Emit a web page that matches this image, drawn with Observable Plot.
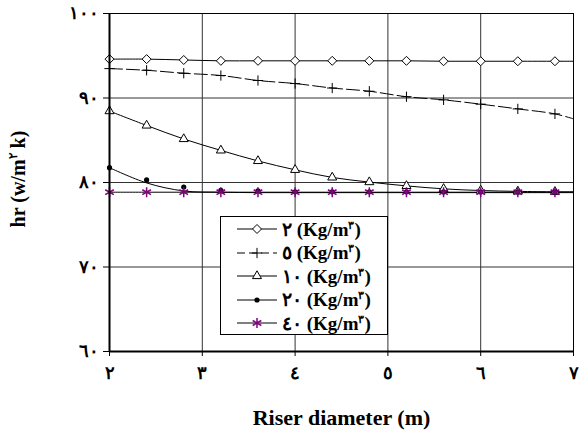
<!DOCTYPE html>
<html><head><meta charset="utf-8">
<script src="https://cdn.jsdelivr.net/npm/d3@7"></script>
<script src="https://cdn.jsdelivr.net/npm/@observablehq/plot@0.6"></script>
<style>
body{margin:0;background:#fff;}
#wrap{position:relative;width:579px;height:436px;font-family:"Times New Roman","Liberation Serif",serif;font-weight:bold;color:#000;}
#ylab{position:absolute;left:18px;top:179px;transform:translate(-50%,-50%) rotate(-90deg);white-space:nowrap;font-size:20px;}
#ylab sup,.leg sup{font-size:0.6em;line-height:0;vertical-align:0.6em;}
#legend{position:absolute;left:220px;top:216px;width:166px;height:117px;border:1.5px solid #000;background:#fff;}
.leg{position:absolute;left:0;height:20px;display:flex;align-items:center;font-size:19px;white-space:nowrap;}
.leg svg{margin-left:16px;margin-right:5px;}
</style></head><body><div id="wrap"></div>
<script>
const diameters = [2, 2.4, 2.8, 3.2, 3.6, 4, 4.4, 4.8, 5.2, 5.6, 6, 6.4, 6.8, 7];
const dens2  = [94.6, 94.6, 94.5, 94.4, 94.4, 94.4, 94.4, 94.4, 94.4, 94.35, 94.35, 94.35, 94.35, 94.35];
const dens5  = [93.48, 93.28, 92.93, 92.66, 92.07, 91.71, 91.18, 90.8, 90.15, 89.78, 89.27, 88.71, 88.12, 87.53];
const dens10 = [88.45, 86.75, 85.15, 83.8, 82.55, 81.5, 80.6, 80.05, 79.6, 79.25, 79.05, 78.95, 78.9, 78.9];
const dens20 = [81.75, 80.3, 79.47, 79.08, 79.0, 78.9, 78.9, 78.9, 78.9, 78.88, 78.88, 78.88, 78.88, 78.85];
const dens20Line = [81.75, 79.95, 79.0, 78.85, 78.8, 78.8, 78.8, 78.8, 78.8, 78.8, 78.8, 78.8, 78.8, 78.8];
const dens40 = [78.85, 78.85, 78.85, 78.85, 78.85, 78.85, 78.85, 78.85, 78.85, 78.85, 78.85, 78.85, 78.85, 78.85];
const seriesLabels = ["٢", "٥", "١٠", "٢٠", "٤٠"];
const xTicks = [2, 3, 4, 5, 6, 7];
const yTicks = [60, 70, 80, 90, 100];
const xTitle = "Riser diameter (m)";

const ar = n => String(n).replace(/\d/g, d => "٠١٢٣٤٥٦٧٨٩"[d]);
const purple = "#800080";

const series = [
  {key: "2",  vals: dens2,  line: dens2,  symbol: "diamond2",  r: 4.05, fill: "white", stroke: "black", dash: null},
  {key: "5",  vals: dens5,  line: dens5,  symbol: "plus",      r: 3.4,  fill: "none",  stroke: "black", dash: "13,4"},
  {key: "10", vals: dens10, line: dens10, symbol: "triangle2", r: 4.3,  fill: "white", stroke: "black", dash: null},
  {key: "20", vals: dens20, line: dens20Line, symbol: "circle", r: 2.6, fill: "black", stroke: "none",  dash: null},
  {key: "40", vals: dens40, line: dens40, symbol: "asterisk",  r: 4.7,  fill: "none",  stroke: purple,  dash: null}
];

const lineMarks = [];
const dotMarks = [];
series.forEach(s => {
  const lineData = diameters.map((x, i) => ({x, y: s.line[i]}));
  const dotData = diameters.map((x, i) => ({x, y: s.vals[i]})).filter(d => d.x < 7);
  lineMarks.push(Plot.line(lineData, {x: "x", y: "y", curve: "catmull-rom", stroke: "black", strokeWidth: 1, strokeDasharray: s.dash}));
  dotMarks.push(Plot.dot(dotData, {x: "x", y: "y", symbol: s.symbol, r: s.r, fill: s.fill, stroke: s.stroke, strokeWidth: s.symbol === "asterisk" ? 1.5 : 1}));
});

const font = '"Times New Roman","Liberation Serif",serif';
const chart = Plot.plot({
  width: 579, height: 436,
  marginLeft: 109, marginRight: 6, marginTop: 13, marginBottom: 85,
  style: {fontFamily: font, fontWeight: "bold", fontSize: "18px", background: "white", color: "black", overflow: "visible"},
  x: {domain: [2, 7]},
  y: {domain: [60, 100]},
  marks: [
    Plot.gridX({ticks: xTicks, stroke: "#333", strokeOpacity: 1, strokeWidth: 1}),
    Plot.gridY({ticks: yTicks, stroke: "#333", strokeOpacity: 1, strokeWidth: 1}),
    Plot.axisX({ticks: xTicks, tickFormat: ar, tickSize: 5, tickPadding: 10, label: null, fontSize: 18}),
    Plot.axisY({ticks: yTicks, tickFormat: ar, tickSize: 6, tickPadding: 5, label: null, fontSize: 18}),
    ...lineMarks,
    ...dotMarks,
    Plot.frame({stroke: "black", strokeWidth: 1}),
    Plot.ruleX([2], {stroke: "black", strokeWidth: 2}),
    Plot.ruleY([60], {stroke: "black", strokeWidth: 2}),
    Plot.text([xTitle], {frameAnchor: "bottom", dy: 73, fontSize: 22, fontWeight: "bold", fill: "black"})
  ]
});

const wrap = document.getElementById("wrap");
wrap.appendChild(chart);

const ylab = document.createElement("div");
ylab.id = "ylab";
ylab.innerHTML = "hr (w/m<sup>٢</sup> k)";
wrap.appendChild(ylab);

const legend = document.createElement("div");
legend.id = "legend";
series.forEach((s, i) => {
  const row = document.createElement("div");
  row.className = "leg";
  row.style.top = (2 + i * 23.6) + "px";
  const svg = d3.create("svg").attr("width", 40).attr("height", 20);
  svg.append("line").attr("x1", 0).attr("x2", 40).attr("y1", 10).attr("y2", 10)
    .attr("stroke", "black").attr("stroke-width", 1).attr("stroke-dasharray", s.dash ? "8,4" : null);
  const symMap = {diamond2: d3.symbolDiamond2, plus: d3.symbolPlus, triangle2: d3.symbolTriangle2, circle: d3.symbolCircle, asterisk: d3.symbolAsterisk};
  svg.append("path").attr("transform", "translate(20,10)")
    .attr("d", d3.symbol(symMap[s.symbol], Math.PI * s.r * s.r)())
    .attr("fill", s.fill).attr("stroke", s.stroke).attr("stroke-width", s.symbol === "asterisk" ? 1.5 : 1);
  row.appendChild(svg.node());
  const t = document.createElement("span");
  t.innerHTML = seriesLabels[i] + " (Kg/m<sup>٣</sup>)";
  row.appendChild(t);
  legend.appendChild(row);
});
wrap.appendChild(legend);
</script>
</body></html>
